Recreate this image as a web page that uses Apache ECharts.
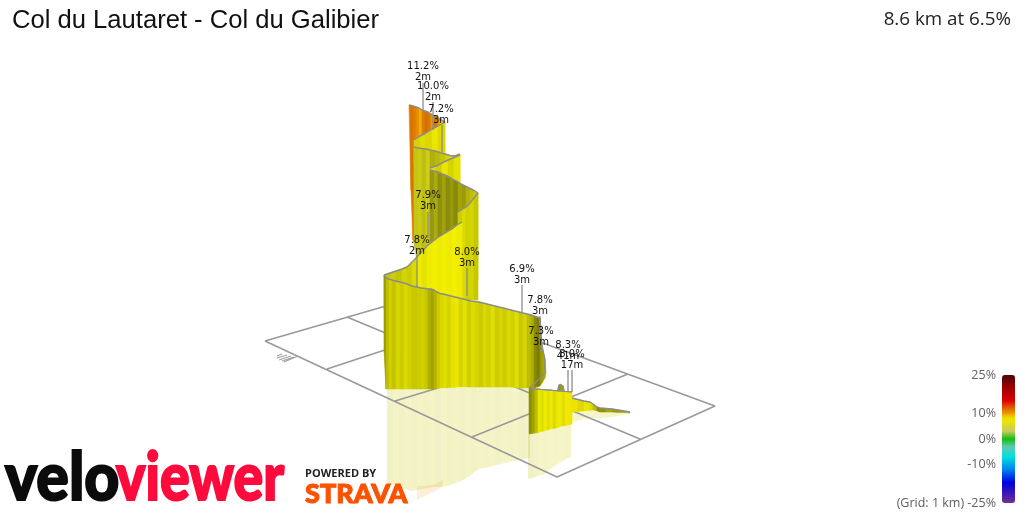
<!DOCTYPE html>
<html><head><meta charset="utf-8">
<style>html,body{margin:0;padding:0;background:#fff}#c{width:1024px;height:512px}</style>
<script src="https://cdn.jsdelivr.net/npm/echarts@6/dist/echarts.min.js"></script>
</head><body><div id="c"></div>
<script>
const titleText = 'Col du Lautaret - Col du Galibier';
const summaryText = '8.6 km at 6.5%';
const legendLabels = ['25%', '10%', '0%', '-10%', '(Grid: 1 km) -25%'];
const legendValues = [25, 10, 0, -10, -25];
const rampGrades = [-25,-17,-12,-7,-3,0,3,7,8.5,10,11.5,15,20,25];
const rampColors = ['#703090','#0000e0','#0080f0','#00e0e0','#60c8b0','#10c010','#c8c860','#e8e800','#f0dc00','#f09800','#e07400','#e00000','#a00000','#4a0808'];

const gridX = [265,417,715,557,265,null,347,640,null,327,479,null,395,540,null,472,628];
const gridY = [341,297,406,477,341,null,317,439,null,369,319,null,401,357,null,437,374];
const markX = [277,287,null,279,291,null,282,294,null,284,298,null,277,282,null];
const markY = [358,355,null,360,356,null,361,357,null,362,356,null,356,354,null];

const s1X=[409,411,413,416,419,422,425,428,431,434,437,440,443,445];
const s1T=[105,105.6,106,107,108,110,111,112,114,116,117,119,121,122];
const s1B=[105,190,240,250,250,250,250,250,250,250,250,250,250,250];
const s1G=[10.8,11.2,11.2,10.6,9.5,10.8,11.2,11,10,11,10.4,8.6,8,7.4];
const s1L=[.95,.95,1,1,1,.95,.92,.95,1,.9,1,1,.95,.95];

const s2X=[414,420,426,432,438,445];
const s2T=[140,136,133,129,126,122];
const s2B=[165,165,165,165,165,165];
const s2G=[7.6,7.4,8,7.3,7.6,7.2];
const s2L=[.92,.96,.95,1,.95,.92];

const s3X=[414,418,422,426,430,435,440,445,450,455,460];
const s3T=[147,148,148.5,149,150,151,152.5,154,155.5,156,154];
const s3B=[240,270,270,270,270,270,270,270,270,270,270];
const s3G=[6,6,6.2,6,6.2,6.4,6.6,7,7,7,7];
const s3L=[.88,.9,.84,.92,.78,.82,.86,.92,.97,.92,.9];

const s4X=[430,436,442,448,454,460];
const s4T=[168,166,163,160,157.5,155];
const s4B=[200,200,200,200,200,200];
const s4G=[7.2,7.2,7.2,7.2,7.2,7.2];
const s4L=[.97,.9,1,.92,.98,.95];

const s5X=[430,434,438,442,446,450,454,458,462,466,470,474,478];
const s5T=[170,171,172,174,175.5,177.5,180,182,184.5,186.5,188.5,190.5,193];
const s5B=[280,280,280,280,280,280,280,280,280,280,280,280,280];
const s5G=[6,6,6.2,6,6.2,6.2,6.4,6.4,6.4,6.6,6.6,6.6,6.6];
const s5L=[.68,.76,.64,.72,.62,.68,.6,.72,.68,.78,.84,.88,.82];

const s6X=[458,462,466,470,474,478];
const s6T=[212,209.5,207,203,198,193];
const s6B=[300,300,300,300,300,300];
const s6G=[7,7,7,7,7,7];
const s6L=[.88,.94,.9,.92,.86,.82];

const s7X=[384,390,396,402,407,412,417,422,427,432,437,442,447,452,457,462];
const s7T=[275,273,271,269,267,262,257,251.5,246,242,238,235,232,229,225,222];
const s7B=[310,310,310,310,310,310,310,310,310,310,310,310,310,310,310,310];
const s7G=[6.4,6.4,6.6,6.8,7,7.2,7.2,7.2,7.2,7.2,7.2,7.2,7.2,7.2,7.2,7.2];
const s7L=[.86,.9,.86,.92,.88,.94,1.02,.98,1.02,1.04,1.02,1.04,1.02,1.04,1.02,1];

const s8X=[384,386,389,392,396,400,404,408,412,417,421,425,428,431,434,437,440,443,447,451,455,459,463,467,471,475,479,483,487,491,495,499,503,507,511,515,519,523,527,531,534,537,540,542,545,546];
const s8T=[275,278,279,280,281,282,283,284.5,286,287,288,288.5,289,289,290,292,293.5,294,295,296,297,298,299,300,301,301.5,302,303,304,305,306,307,308,309,310,311,312,313,314,315,316,317,318,346,360,372];
const s8B=[350,389,389,389,389,389,389,389,389,389,389,389,389,389,389,388.5,388,388,388,387.5,387.5,387,387,387,387,387,387,387,387,387,387,387,387,387,387,387.5,388,388,388,388,388,387,386,383,378,374];
const s8G=[7,7,7,7,7,7,7,7,7,7,7,7,7,7,7,7,7.2,7.2,7.2,7.2,7.2,7.2,7.2,7.2,7.2,7.2,7.2,7.2,7,7,7,7,7,7,7,7,7,7,7,6.8,6.8,6.8,6.8,6.8,6.8,6.8];
const s8L=[.66,.82,.9,.84,.92,.88,.94,.9,.86,.88,.9,.86,.76,.7,.78,.88,.93,.96,.92,.98,1,.92,.98,.9,.95,.92,.88,.94,.9,.96,.88,.92,.88,.94,.9,.96,.86,.92,.82,.76,.6,.54,.66,.72,.82,.84];

const bumpX=[558,559,561,563,564];
const bumpT=[390,385,384,386,391];
const bumpB=[396,396,396,396,396];
const bumpG=[6.8,6.8,6.8,6.8,6.8];
const bumpL=[.62,.64,.74,.62,.62];

const s11X=[572,578,584,590,593,597,600,606,612,618,624,630];
const s11T=[398,399.5,401,402,404,407,408,408.5,409,410,411,412];
const s11B=[412,411.5,411,410.5,410,411,412,412,412,412.5,412.5,413];
const s11G=[7.6,7.6,7.4,7.4,7.2,6.8,6.8,6.8,6.8,6.8,6.8,6.8];
const s11L=[1,.95,1,.95,.82,.62,.64,.72,.68,.72,.74,.72];

const s10X=[529,532,535,538,541,544,547,550,553,556,559,562,565,568,570,572];
const s10T=[388,388.4,388.8,389,389.4,389.6,390,390,390.4,390.6,391,391,391.4,391.6,392,392];
const s10B=[434,433.5,433,432.5,431.5,431,430,429,428.5,428,427,426,425.5,425,424.5,424];
const s10G=[6.8,6.8,6.8,7,7,7.2,7,7.2,7,7.2,7.2,7.2,7.4,7.6,8.2,8.6];
const s10L=[.62,.7,.82,1,.96,1.02,.96,1.02,.94,1,1.02,.96,1.02,1.02,1.02,1.02];

const r1X=[387,393,399,405,411,417,423,429,435,441,447,453,459,465,471,477,483,489,495,501,507,513,519,525,530];
const r1T=[389,389,389,389,389,389,389,389,389,389,388.5,388,388,387.5,387,387,387,387,387,387,387,387,387.5,388,389];
const r1B=[483,485,487,489,491,490,489,488,487,487,486,484,482,479,475,470,468,467,465.5,464,462.5,461,460,459,458];
const r1G=[7,7,7,7,7,7,7,7,7,7,7.2,7.2,7.2,7.2,7.2,7.2,7,7,7,7,7,7,7,7,7];
const r1L=[.82,.88,.84,.88,.85,.88,.85,.88,.82,.88,.85,.88,.84,.88,.85,.88,.86,.88,.85,.88,.86,.88,.83,.87,.82];

const r0X=[417,425,435,443];
const r0T=[486,486,484,480];
const r0B=[500,496,491,486];
const r0G=[10,10.6,10.4,10];
const r0L=[1,1,1,1];

const r2X=[528,533,538,543,548,553,558,563,568,571];
const r2T=[434,433,432,431,429,428,427,426,425,424];
const r2B=[479,478,476,475,471,467,464,461,458,457];
const r2G=[7,7,7,7,7,7,7,7.2,7.2,7.6];
const r2L=[.82,.86,.9,.88,.9,.88,.9,.88,.9,.9];

const r3X=[572,580,590,600,612,622,630];
const r3T=[412,412,411,412,412,412.5,413];
const r3B=[422,420,418,418,417,415,413];
const r3G=[7,7,7,7,7,7,7];
const r3L=[.9,.9,.9,.9,.9,.9,.9];

const labelText=['11.2%\n2m','10.0%\n2m','7.2%\n3m','7.9%\n3m','7.8%\n2m','8.0%\n3m','6.9%\n3m','7.8%\n3m','7.3%\n3m','8.3%\n41m','8.0%\n17m'];
const labelX=[423,433,441,428,417,467,522,540,541,568,572];
const labelY=[72,92,115,201,246,258,275,306,337,351,360];
const leaderX=[423,433,442,428,417,467,522,540,541,568,572];
const leaderY0=[83,102,125,212,255,268,285,316,347,370,370];
const leaderY1=[110,130,152,238,287,296,312,345,352,392,392];

const clamp=v=>Math.max(0,Math.min(255,Math.round(v)));
function hex(c){return [1,3,5].map(i=>parseInt(c.substr(i,2),16));}
function gradeRgb(g){
  for(let i=1;i<rampGrades.length;i++){
    if(g<=rampGrades[i]){
      const t=(g-rampGrades[i-1])/(rampGrades[i]-rampGrades[i-1]);
      const a=hex(rampColors[i-1]),b=hex(rampColors[i]);
      return a.map((v,k)=>v+(b[k]-v)*t);
    }
  }
  return hex(rampColors[rampColors.length-1]);
}
function shade(g,l){const c=gradeRgb(g).map(v=>clamp(v*l));return 'rgb('+c.join(',')+')';}
const barColors=[];
for(let g=-25;g<=25;g++)barColors.push(shade(g,1));

function wall(x,t,b,g,l,z,opacity){
  const data=[];
  for(let i=0;i<x.length-1;i++)data.push([x[i],t[i],b[i],x[i+1],t[i+1],b[i+1],g[i],l[i]]);
  return {type:'custom',coordinateSystem:'cartesian2d',silent:true,z:z,clip:false,animation:false,
    encode:{x:0,y:1},data:data,
    renderItem:(p,api)=>{
      const a=api.coord([api.value(0),api.value(1)]),b2=api.coord([api.value(0),api.value(2)]);
      const c=api.coord([api.value(3),api.value(4)]),d=api.coord([api.value(3),api.value(5)]);
      const col=shade(api.value(6),api.value(7));
      return {type:'polygon',shape:{points:[a,c,d,b2]},
        style:{fill:col,stroke:col,lineWidth:opacity<1?0:0.6,opacity:opacity}};
    }};
}
function outline(x,y,z){
  return {type:'line',silent:true,animation:false,z:z,symbol:'none',connectNulls:false,
    lineStyle:{color:'#8c8c8c',width:1.4},data:x.map((v,i)=>[v,y[i]])};
}
const s8OutX=s8X.slice(0,-1).concat([545,530]);
const s8OutT=s8T.slice(0,-1).concat([373,388]);

const series=[
  wall(r0X,r0T,r0B,r0G,r0L,1,.14),
  wall(r1X,r1T,r1B,r1G,r1L,1,.22),
  wall(r2X,r2T,r2B,r2G,r2L,1,.22),
  wall(r3X,r3T,r3B,r3G,r3L,1,.22),
  {type:'line',silent:true,animation:false,z:2,symbol:'none',connectNulls:false,
    lineStyle:{color:'#999999',width:1.5},data:gridX.map((v,i)=>[v,gridY[i]])},
  {type:'line',silent:true,animation:false,z:2,symbol:'none',connectNulls:false,
    lineStyle:{color:'#a0a0a0',width:1.2},data:markX.map((v,i)=>[v,markY[i]])},
  wall(s1X,s1T,s1B,s1G,s1L,3,1), outline(s1X,s1T,3),
  wall(s2X,s2T,s2B,s2G,s2L,4,1), outline(s2X,s2T,4),
  wall(s3X,s3T,s3B,s3G,s3L,5,1), outline(s3X,s3T,5),
  wall(s4X,s4T,s4B,s4G,s4L,6,1), outline(s4X,s4T,6),
  wall(s5X,s5T,s5B,s5G,s5L,7,1), outline(s5X,s5T,7),
  wall(s6X,s6T,s6B,s6G,s6L,8,1), outline(s6X,s6T,8),
  wall(s7X,s7T,s7B,s7G,s7L,9,1), outline(s7X,s7T,9),
  wall(s11X,s11T,s11B,s11G,s11L,10,1), outline(s11X,s11T,10),
  wall(s8X,s8T,s8B,s8G,s8L,11,1), outline(s8OutX,s8OutT,11),
  wall(bumpX,bumpT,bumpB,bumpG,bumpL,12,1), outline(bumpX,bumpT,12),
  wall(s10X,s10T,s10B,s10G,s10L,13,1), outline(s10X,s10T,13),
  {type:'custom',coordinateSystem:'cartesian2d',silent:true,z:20,clip:false,animation:false,
    encode:{x:0,y:1},
    data:labelText.map((t,i)=>[leaderX[i],leaderY0[i],leaderY1[i],labelX[i],labelY[i],t]),
    dimensions:['x','y0','y1','lx','ly',{name:'t',type:'ordinal'}],
    renderItem:(p,api)=>{
      const i=p.dataIndex;
      const a=api.coord([leaderX[i],leaderY0[i]]),b=api.coord([leaderX[i],leaderY1[i]]);
      const c=api.coord([labelX[i],labelY[i]]);
      return {type:'group',children:[
        {type:'line',shape:{x1:a[0],y1:a[1],x2:b[0],y2:b[1]},style:{stroke:'#8c8c8c',lineWidth:1.3}},
        {type:'text',x:c[0],y:c[1],style:{text:labelText[i],fill:'#111',font:'10px "DejaVu Sans"',
          align:'center',verticalAlign:'middle',lineHeight:11}}
      ]};
    }},
  {type:'scatter',silent:true,animation:false,symbolSize:0,data:[],z:1},
  {type:'scatter',silent:true,animation:false,symbolSize:0,z:20,
    data:legendValues.map((v,i)=>({value:[996,439-v*2.56],label:{formatter:legendLabels[i]}})),
    label:{show:true,position:'left',distance:0,color:'#333',fontFamily:'Open Sans',fontSize:12.5}}
];
const lastIdx=series.length-2;

const chart=echarts.init(document.getElementById('c'),null,{renderer:'canvas',width:1024,height:512});
chart.setOption({
  animation:false,backgroundColor:'#fff',
  title:[
    {text:titleText,left:12,top:8,padding:0,textStyle:{fontFamily:'Liberation Sans',fontWeight:'normal',fontSize:25.6,color:'#111'}},
    {text:summaryText,right:13,top:10,padding:0,textStyle:{fontFamily:'Open Sans',fontWeight:'normal',fontSize:18.8,color:'#222'}}
  ],
  grid:{left:0,right:0,top:0,bottom:0},
  xAxis:{type:'value',min:0,max:1024,show:false},
  yAxis:{type:'value',min:0,max:512,inverse:true,show:false},
  visualMap:{type:'continuous',min:-25,max:25,seriesIndex:lastIdx,dimension:1,calculable:false,
    right:9,top:375,itemWidth:13,itemHeight:128,padding:0,text:null,hoverLink:false,realtime:false,
    inRange:{color:barColors}},
  graphic:[
    {type:'text',x:5,y:512,scaleX:.92,z:30,style:{text:'velo',font:'900 66px Lato',fill:'#0b0b0b',stroke:'#0b0b0b',lineWidth:2,verticalAlign:'bottom'}},
    {type:'text',x:116,y:512,scaleX:.84,z:30,style:{text:'viewer',font:'900 66px Lato',fill:'#ff0a3c',stroke:'#ff0a3c',lineWidth:2,verticalAlign:'bottom'}},
    {type:'text',x:305,y:479,scaleX:1,z:30,style:{text:'POWERED BY',font:'bold 11px "Open Sans"',fill:'#222',verticalAlign:'bottom'}},
    {type:'text',x:305,y:508,scaleX:1.04,z:30,style:{text:'STRAVA',font:'900 26px Lato',fill:'#fc5200',stroke:'#fc5200',lineWidth:1,verticalAlign:'bottom'}}
  ],
  series:series
});
</script></body></html>
